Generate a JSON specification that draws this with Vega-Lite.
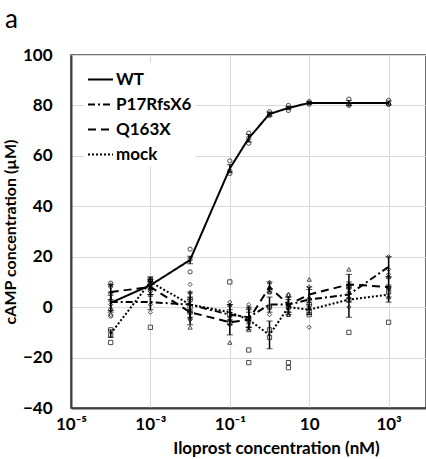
{
  "$schema": "https://vega.github.io/schema/vega-lite/v6.json",
  "width": 355,
  "height": 353,
  "autosize": {"type": "none"},
  "padding": {"left": 71, "top": 55, "right": 0, "bottom": 51},
  "background": "white",
  "title": {"text": "a", "anchor": "start", "frame": "group", "dx": -66, "offset": 13, "fontSize": 26, "fontWeight": "normal", "font": "Lato", "color": "#000"},
  "config": {"view": {"stroke": "#404040", "strokeWidth": 1.5}, "font": "Lato"},
  "resolve": {"legend": {"shape": "independent", "strokeDash": "independent"}},
  "datasets": {
    "means": [
      {"series": "WT", "conc": 0.0001, "mean": 1.7, "err": 3},
      {"series": "WT", "conc": 0.001, "mean": 8.7, "err": 1.5},
      {"series": "WT", "conc": 0.01, "mean": 18.7, "err": 1.5},
      {"series": "WT", "conc": 0.1, "mean": 55, "err": 1.5},
      {"series": "WT", "conc": 0.3, "mean": 67, "err": 1.5},
      {"series": "WT", "conc": 1, "mean": 76.6, "err": 0.8},
      {"series": "WT", "conc": 3, "mean": 79, "err": 0.5},
      {"series": "WT", "conc": 10, "mean": 81, "err": 0.5},
      {"series": "WT", "conc": 100, "mean": 81, "err": 1},
      {"series": "WT", "conc": 1000, "mean": 81, "err": 0.8},
      {"series": "P17RfsX6", "conc": 0.0001, "mean": 2, "err": 4},
      {"series": "P17RfsX6", "conc": 0.001, "mean": 2, "err": 3},
      {"series": "P17RfsX6", "conc": 0.01, "mean": 1, "err": 5},
      {"series": "P17RfsX6", "conc": 0.1, "mean": -3, "err": 4},
      {"series": "P17RfsX6", "conc": 0.3, "mean": -4, "err": 4},
      {"series": "P17RfsX6", "conc": 1, "mean": 1, "err": 3},
      {"series": "P17RfsX6", "conc": 3, "mean": 1, "err": 3},
      {"series": "P17RfsX6", "conc": 10, "mean": 3, "err": 4},
      {"series": "P17RfsX6", "conc": 100, "mean": 5, "err": 3},
      {"series": "P17RfsX6", "conc": 1000, "mean": 16, "err": 4},
      {"series": "Q163X", "conc": 0.0001, "mean": 6, "err": 3},
      {"series": "Q163X", "conc": 0.001, "mean": 8, "err": 3},
      {"series": "Q163X", "conc": 0.01, "mean": -2, "err": 5},
      {"series": "Q163X", "conc": 0.1, "mean": -6, "err": 5},
      {"series": "Q163X", "conc": 0.3, "mean": -5, "err": 4},
      {"series": "Q163X", "conc": 1, "mean": 8, "err": 2},
      {"series": "Q163X", "conc": 3, "mean": 1, "err": 3},
      {"series": "Q163X", "conc": 10, "mean": 5, "err": 3},
      {"series": "Q163X", "conc": 100, "mean": 9, "err": 4},
      {"series": "Q163X", "conc": 1000, "mean": 8, "err": 4},
      {"series": "mock", "conc": 0.0001, "mean": -10.5, "err": 1.5},
      {"series": "mock", "conc": 0.001, "mean": 10, "err": 2},
      {"series": "mock", "conc": 0.01, "mean": 1, "err": 3},
      {"series": "mock", "conc": 0.1, "mean": -2, "err": 3},
      {"series": "mock", "conc": 0.3, "mean": -5, "err": 3},
      {"series": "mock", "conc": 1, "mean": -11, "err": 5.5},
      {"series": "mock", "conc": 3, "mean": 0, "err": 3},
      {"series": "mock", "conc": 10, "mean": -1, "err": 2},
      {"series": "mock", "conc": 100, "mean": 3, "err": 7},
      {"series": "mock", "conc": 1000, "mean": 5, "err": 3}
    ],
    "reps": [
      {"group": "WT", "conc": 0.0001, "value": 9.5},
      {"group": "WT", "conc": 0.0001, "value": -1},
      {"group": "WT", "conc": 0.0001, "value": -3.5},
      {"group": "WT", "conc": 0.001, "value": 10.5},
      {"group": "WT", "conc": 0.001, "value": 9},
      {"group": "WT", "conc": 0.001, "value": 6.5},
      {"group": "WT", "conc": 0.01, "value": 23},
      {"group": "WT", "conc": 0.01, "value": 19},
      {"group": "WT", "conc": 0.01, "value": 14},
      {"group": "WT", "conc": 0.1, "value": 58},
      {"group": "WT", "conc": 0.1, "value": 54},
      {"group": "WT", "conc": 0.1, "value": 53},
      {"group": "WT", "conc": 0.3, "value": 69},
      {"group": "WT", "conc": 0.3, "value": 67},
      {"group": "WT", "conc": 0.3, "value": 65},
      {"group": "WT", "conc": 1, "value": 77.5},
      {"group": "WT", "conc": 1, "value": 76.5},
      {"group": "WT", "conc": 1, "value": 76},
      {"group": "WT", "conc": 3, "value": 80},
      {"group": "WT", "conc": 3, "value": 79},
      {"group": "WT", "conc": 3, "value": 78},
      {"group": "WT", "conc": 10, "value": 81.5},
      {"group": "WT", "conc": 10, "value": 81},
      {"group": "WT", "conc": 10, "value": 80.5},
      {"group": "WT", "conc": 100, "value": 82.5},
      {"group": "WT", "conc": 100, "value": 80.5},
      {"group": "WT", "conc": 100, "value": 80},
      {"group": "WT", "conc": 1000, "value": 82},
      {"group": "WT", "conc": 1000, "value": 80.5},
      {"group": "WT", "conc": 1000, "value": 80.5},
      {"group": "P17RfsX6", "conc": 0.0001, "value": 8},
      {"group": "P17RfsX6", "conc": 0.0001, "value": 1},
      {"group": "P17RfsX6", "conc": 0.0001, "value": -3},
      {"group": "P17RfsX6", "conc": 0.001, "value": 7},
      {"group": "P17RfsX6", "conc": 0.001, "value": 1},
      {"group": "P17RfsX6", "conc": 0.001, "value": -2},
      {"group": "P17RfsX6", "conc": 0.01, "value": 9},
      {"group": "P17RfsX6", "conc": 0.01, "value": -2},
      {"group": "P17RfsX6", "conc": 0.01, "value": -5},
      {"group": "P17RfsX6", "conc": 0.1, "value": 2},
      {"group": "P17RfsX6", "conc": 0.1, "value": -4},
      {"group": "P17RfsX6", "conc": 0.1, "value": -7},
      {"group": "P17RfsX6", "conc": 0.3, "value": 1},
      {"group": "P17RfsX6", "conc": 0.3, "value": -5},
      {"group": "P17RfsX6", "conc": 0.3, "value": -8},
      {"group": "P17RfsX6", "conc": 1, "value": 6},
      {"group": "P17RfsX6", "conc": 1, "value": 0},
      {"group": "P17RfsX6", "conc": 1, "value": -3},
      {"group": "P17RfsX6", "conc": 3, "value": 5},
      {"group": "P17RfsX6", "conc": 3, "value": 1},
      {"group": "P17RfsX6", "conc": 3, "value": -3},
      {"group": "P17RfsX6", "conc": 10, "value": 8},
      {"group": "P17RfsX6", "conc": 10, "value": 3},
      {"group": "P17RfsX6", "conc": 10, "value": -8},
      {"group": "P17RfsX6", "conc": 100, "value": 9},
      {"group": "P17RfsX6", "conc": 100, "value": 6},
      {"group": "P17RfsX6", "conc": 100, "value": 0},
      {"group": "P17RfsX6", "conc": 1000, "value": 20},
      {"group": "P17RfsX6", "conc": 1000, "value": 15},
      {"group": "P17RfsX6", "conc": 1000, "value": 13},
      {"group": "Q163X", "conc": 0.0001, "value": 9},
      {"group": "Q163X", "conc": 0.0001, "value": 6},
      {"group": "Q163X", "conc": 0.0001, "value": 3},
      {"group": "Q163X", "conc": 0.001, "value": 11},
      {"group": "Q163X", "conc": 0.001, "value": 8},
      {"group": "Q163X", "conc": 0.001, "value": 5},
      {"group": "Q163X", "conc": 0.01, "value": 6},
      {"group": "Q163X", "conc": 0.01, "value": -4},
      {"group": "Q163X", "conc": 0.01, "value": -8},
      {"group": "Q163X", "conc": 0.1, "value": 1},
      {"group": "Q163X", "conc": 0.1, "value": -5},
      {"group": "Q163X", "conc": 0.1, "value": -14},
      {"group": "Q163X", "conc": 0.3, "value": 0},
      {"group": "Q163X", "conc": 0.3, "value": -6},
      {"group": "Q163X", "conc": 0.3, "value": -9},
      {"group": "Q163X", "conc": 1, "value": 10},
      {"group": "Q163X", "conc": 1, "value": 8},
      {"group": "Q163X", "conc": 1, "value": 6},
      {"group": "Q163X", "conc": 3, "value": 5},
      {"group": "Q163X", "conc": 3, "value": 1},
      {"group": "Q163X", "conc": 3, "value": -3},
      {"group": "Q163X", "conc": 10, "value": 11},
      {"group": "Q163X", "conc": 10, "value": 4},
      {"group": "Q163X", "conc": 10, "value": 0},
      {"group": "Q163X", "conc": 100, "value": 15},
      {"group": "Q163X", "conc": 100, "value": 8},
      {"group": "Q163X", "conc": 100, "value": 4},
      {"group": "Q163X", "conc": 1000, "value": 12},
      {"group": "Q163X", "conc": 1000, "value": 8},
      {"group": "Q163X", "conc": 1000, "value": 4},
      {"group": "mock", "conc": 0.0001, "value": -9},
      {"group": "mock", "conc": 0.0001, "value": -11},
      {"group": "mock", "conc": 0.0001, "value": -14},
      {"group": "mock", "conc": 0.001, "value": 11},
      {"group": "mock", "conc": 0.001, "value": 10},
      {"group": "mock", "conc": 0.001, "value": -8},
      {"group": "mock", "conc": 0.01, "value": 3},
      {"group": "mock", "conc": 0.01, "value": 0},
      {"group": "mock", "conc": 0.01, "value": -2},
      {"group": "mock", "conc": 0.1, "value": 10},
      {"group": "mock", "conc": 0.1, "value": -3},
      {"group": "mock", "conc": 0.1, "value": -6},
      {"group": "mock", "conc": 0.3, "value": -5},
      {"group": "mock", "conc": 0.3, "value": -17},
      {"group": "mock", "conc": 0.3, "value": -22},
      {"group": "mock", "conc": 1, "value": 0},
      {"group": "mock", "conc": 1, "value": -9},
      {"group": "mock", "conc": 1, "value": -12},
      {"group": "mock", "conc": 3, "value": 0},
      {"group": "mock", "conc": 3, "value": -22},
      {"group": "mock", "conc": 3, "value": -24},
      {"group": "mock", "conc": 10, "value": 1},
      {"group": "mock", "conc": 10, "value": -2},
      {"group": "mock", "conc": 10, "value": -3},
      {"group": "mock", "conc": 100, "value": 8},
      {"group": "mock", "conc": 100, "value": 3},
      {"group": "mock", "conc": 100, "value": -10},
      {"group": "mock", "conc": 1000, "value": 8},
      {"group": "mock", "conc": 1000, "value": 6},
      {"group": "mock", "conc": 1000, "value": -6}
    ]
  },
  "encoding": {
    "x": {
      "field": "conc", "type": "quantitative",
      "scale": {"type": "log", "domain": [0.00001, 8750], "nice": false},
      "axis": {
        "title": "Iloprost concentration (nM)",
        "values": [0.00001, 0.001, 0.1, 10, 1000],
        "labelExpr": "datum.value < 0.0001 ? '10⁻⁵' : datum.value < 0.01 ? '10⁻³' : datum.value < 1 ? '10⁻¹' : datum.value < 100 ? '10' : '10³'",
        "grid": true, "gridColor": "#d9d9d9", "gridWidth": 1,
        "domainColor": "#404040", "domainWidth": 2,
        "ticks": false,
        "labelFontSize": 17, "labelFontWeight": "bold", "labelColor": "#000", "labelFont": "Lato",
        "labelPadding": 8, "labelFlush": false,
        "titleFontSize": 17, "titleFontWeight": "bold", "titleColor": "#000", "titleFont": "Lato",
        "titlePadding": 8, "titleX": 205
      }
    }
  },
  "layer": [
    {
      "data": {"name": "means"},
      "mark": {"type": "line", "color": "#000", "strokeWidth": 2},
      "encoding": {
        "y": {
          "field": "mean", "type": "quantitative", "title": "cAMP concentration (µM)",
          "scale": {"domain": [-40, 100], "nice": false},
          "axis": {
            "values": [-40, -20, 0, 20, 40, 60, 80, 100],
            "grid": true, "gridColor": "#d9d9d9", "gridWidth": 1,
            "domainColor": "#404040", "domainWidth": 2,
            "ticks": false,
            "labelFontSize": 17, "labelFontWeight": "bold", "labelColor": "#000", "labelFont": "Lato",
            "labelPadding": 19,
            "titleFontSize": 16, "titleFontWeight": "bold", "titleColor": "#000", "titleFont": "Lato",
            "titlePadding": 4
          }
        },
        "strokeDash": {
          "field": "series", "type": "nominal",
          "scale": {"domain": ["WT", "P17RfsX6", "Q163X", "mock"], "range": [[1, 0], [7, 3, 2, 3], [8, 5], [2, 2]]},
          "legend": {
            "orient": "none", "legendX": 13, "legendY": 8, "title": null,
            "symbolType": "stroke", "symbolSize": 625, "symbolStrokeWidth": 2, "symbolStrokeColor": "#000",
            "labelFontSize": 17, "labelFontWeight": "bold", "labelFont": "Lato", "labelColor": "#000",
            "rowPadding": 3, "labelOffset": 2, "fillColor": "white", "padding": 3
          }
        }
      }
    },
    {
      "data": {"name": "means"},
      "mark": {"type": "errorbar", "color": "#000", "ticks": {"size": 6, "strokeWidth": 1.5}, "rule": {"strokeWidth": 1.5}},
      "encoding": {
        "y": {"field": "mean", "type": "quantitative", "title": "cAMP concentration (µM)"},
        "yError": {"field": "err"},
        "detail": {"field": "series"}
      }
    },
    {
      "data": {"name": "reps"},
      "mark": {"type": "point", "filled": false, "color": "#000", "size": 18, "strokeWidth": 1},
      "encoding": {
        "y": {"field": "value", "type": "quantitative", "title": "cAMP concentration (µM)"},
        "shape": {
          "field": "group", "type": "nominal",
          "scale": {"domain": ["mock", "Q163X", "P17RfsX6", "WT"], "range": ["square", "triangle-up", "diamond", "circle"]},
          "legend": null
        }
      }
    }
  ]
}
